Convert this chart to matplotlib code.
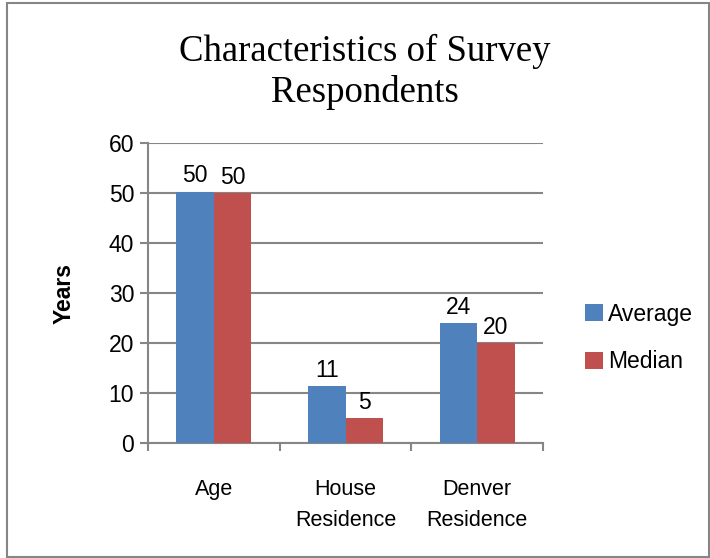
import numpy as np
import matplotlib
matplotlib.use("Agg")
import matplotlib.pyplot as plt
from matplotlib.patches import Rectangle

categories = ["Age", "House\nResidence", "Denver\nResidence"]
average = [50.3, 11.4, 24.1]
median = [50.0, 5.0, 20.0]
series = ["Average", "Median"]
colors = ["#4F81BD", "#C0504D"]

plt.rcParams["font.family"] = ["Liberation Sans", "DejaVu Sans"]

fig = plt.figure(figsize=(7.10, 5.58), dpi=100)
ax = fig.add_axes([148 / 710, 1 - 443 / 558, 395 / 710, 300 / 558])

x = np.arange(len(categories))
w = 0.286
b1 = ax.bar(x - w / 2, average, w, color=colors[0], label=series[0], zorder=3)
b2 = ax.bar(x + w / 2, median, w, color=colors[1], label=series[1], zorder=3)
for bars, vals in ((b1, average), (b2, median)):
    for b, v in zip(bars, vals):
        ax.text(b.get_x() + b.get_width() / 2, v + 0.8, f"{v:.0f}",
                ha="center", va="bottom", fontsize=16.5)

ax.set_xlim(-0.5, len(categories) - 0.5)
ax.set_ylim(0, 60)
ax.set_yticks(range(0, 61, 10))
ax.tick_params(axis="y", labelsize=16.5, length=6, color="#868686", width=1.5, pad=4)
ax.set_xticks(x)
ax.set_xticklabels(categories, fontsize=15.5, linespacing=1.6)
ax.tick_params(axis="x", length=0, pad=26)
ax.set_xticks(np.arange(len(categories) + 1) - 0.5, minor=True)
ax.tick_params(axis="x", which="minor", length=6, color="#868686", width=1.5)
ax.grid(axis="y", color="#868686", lw=1.5, zorder=0)
for s in ["top", "right"]:
    ax.spines[s].set_visible(False)
for s in ["left", "bottom"]:
    ax.spines[s].set_color("#868686")
    ax.spines[s].set_linewidth(1.5)
ax.set_ylabel("Years", fontsize=16.5, fontweight="bold", labelpad=24)

fig.text(365 / 710, 1 - 72 / 558, "Characteristics of Survey\nRespondents",
         ha="center", va="center", fontsize=26.5, family="Liberation Serif",
         linespacing=1.25)

ax.legend(loc="center left", bbox_to_anchor=(1.055, 0.35), frameon=False,
          fontsize=16.5, handlelength=0.75, handleheight=0.75, labelspacing=1.06,
          handletextpad=0.25)

fig.patches.append(Rectangle((7 / 710, 1 / 558), 702 / 710, 554 / 558,
                             transform=fig.transFigure, fill=False,
                             edgecolor="#868686", lw=1.5))

fig.savefig("out.png", dpi=100)
